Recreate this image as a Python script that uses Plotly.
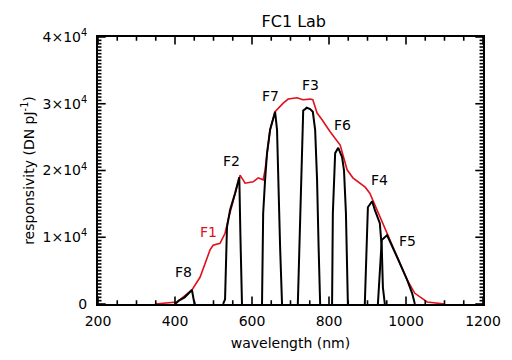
import plotly.graph_objects as go

# Broadband filter F1 (red)
f1_nm = [348, 405, 444, 465, 491, 499, 517, 530, 538, 551, 564, 569, 582, 603, 616, 629, 634, 639,
         647, 660, 681, 694, 717, 732, 751, 758, 769, 782, 803, 829, 847, 862, 894, 906, 925, 951,
         977, 1003, 1023, 1055, 1101]
f1_val = [0, 300, 2100, 4000, 8100, 8800, 9100, 10600, 12600, 15600, 18600, 19300, 18100, 18300,
          18900, 18600, 20100, 22600, 26100, 28800, 30100, 30700, 30900, 30600, 30700, 30600, 28600,
          27600, 25800, 23800, 20100, 18900, 17500, 16600, 14100, 10600, 7000, 3600, 1600, 300, 0]

# Narrow-band filters (black)
f8_nm = [400, 410, 425, 440, 444, 449, 452]
f8_val = [0, 500, 1000, 1800, 2100, 500, 0]

f2_nm = [525, 530, 535, 543, 556, 564, 567, 570, 574]
f2_val = [0, 700, 11500, 14100, 16600, 18600, 19000, 10000, 0]

f7_nm = [626, 629, 634, 639, 647, 660, 665, 668, 673, 678]
f7_val = [0, 13600, 18600, 22600, 26100, 28800, 26100, 18600, 8500, 0]

f3_nm = [719, 725, 730, 733, 738, 742, 751, 758, 764, 769, 773, 777]
f3_val = [0, 13600, 23500, 29000, 29200, 29400, 29200, 28800, 26100, 18600, 8500, 0]

f6_nm = [808, 810, 816, 824, 834, 839, 844, 849]
f6_val = [0, 13600, 22600, 23400, 22000, 20000, 13600, 0]

f4_nm = [893, 899, 901, 912, 919, 932, 937, 940, 945]
f4_val = [0, 11100, 14500, 15400, 14100, 12100, 8500, 2500, 0]

f5_nm = [927, 932, 937, 945, 951, 977, 1003, 1016, 1023]
f5_val = [0, 5500, 9600, 10000, 10300, 7000, 3600, 1600, 0]

filters = [(f8_nm, f8_val), (f2_nm, f2_val), (f7_nm, f7_val), (f3_nm, f3_val),
           (f6_nm, f6_val), (f4_nm, f4_val), (f5_nm, f5_val)]

label_text = ["F8", "F1", "F2", "F7", "F3", "F6", "F4", "F5"]
label_nm = [423, 486, 548, 649, 753, 834, 932, 1003]
label_val = [4800, 10800, 21400, 31200, 32800, 26800, 18600, 9400]
label_color = ["black", "#e0101c", "black", "black", "black", "black", "black", "black"]

y_label_alias = {"10000": "1×10<sup>4</sup>", "20000": "2×10<sup>4</sup>",
                 "30000": "3×10<sup>4</sup>", "40000": "4×10<sup>4</sup>"}

FONT = "DejaVu Sans"

X_MIN, X_MAX, X_MAJOR, X_MINOR = 200, 1200, 200, 50
Y_MIN, Y_MAX, Y_MAJOR, Y_MINOR = 0, 40000, 10000, 500

fig = go.Figure()
fig.add_trace(go.Scatter(x=f1_nm, y=f1_val, mode="lines",
                         line=dict(color="#e0101c", width=1.6), showlegend=False))
for nm, val in filters:
    fig.add_trace(go.Scatter(x=nm, y=val, mode="lines",
                             line=dict(color="black", width=2), showlegend=False))

for t, xv, yv, c in zip(label_text, label_nm, label_val, label_color):
    fig.add_annotation(x=xv, y=yv, xref="x", yref="y", text=t, showarrow=False,
                       font=dict(family=FONT, size=14, color=c))

# Inward tick marks on all four sides (IDL-style box), drawn through the axis scales
x_span = X_MAX - X_MIN
y_span = Y_MAX - Y_MIN
tx, ty = [], []
for v in range(X_MIN, X_MAX + 1, X_MINOR):
    f = 0.028 if v % X_MAJOR == 0 else 0.014
    tx += [v, v, None, v, v, None]
    ty += [Y_MIN, Y_MIN + f * y_span, None, Y_MAX, Y_MAX - f * y_span, None]
for v in range(Y_MIN, Y_MAX + 1, Y_MINOR):
    f = 0.02 if v % Y_MAJOR == 0 else 0.009
    tx += [X_MIN, X_MIN + f * x_span, None, X_MAX, X_MAX - f * x_span, None]
    ty += [v, v, None, v, v, None]
fig.add_trace(go.Scatter(x=tx, y=ty, mode="lines", line=dict(color="black", width=1.6),
                         hoverinfo="skip", showlegend=False, cliponaxis=False))

fig.update_layout(
    template="none",
    width=504, height=352,
    margin=dict(l=90, r=29, t=29, b=56),
    paper_bgcolor="white", plot_bgcolor="white",
    title=dict(text="FC1 Lab", x=0.567, xanchor="center", y=0.962, yanchor="middle",
               font=dict(family=FONT, size=16, color="black")),
    font=dict(family=FONT, size=14, color="black"),
)
fig.update_xaxes(range=[X_MIN, X_MAX], tickmode="linear", tick0=X_MIN, dtick=X_MAJOR,
                 showgrid=False, zeroline=False,
                 showline=True, linecolor="black", linewidth=2, mirror=True, ticks="",
                 title=dict(text="wavelength (nm)", standoff=10, font=dict(family=FONT, size=14)),
                 tickfont=dict(family=FONT, size=14), ticklabelstandoff=3)
fig.update_yaxes(range=[Y_MIN, Y_MAX], tickmode="linear", tick0=Y_MIN, dtick=Y_MAJOR, tickformat="d",
                 labelalias=y_label_alias, showgrid=False,
                 zeroline=False, showline=True, linecolor="black", linewidth=2, mirror=True, ticks="",
                 title=dict(text="responsivity (DN pJ<sup>-1</sup>)", standoff=5,
                            font=dict(family=FONT, size=14)),
                 tickfont=dict(family=FONT, size=14), ticklabelstandoff=6)

fig.write_html("out.html")
